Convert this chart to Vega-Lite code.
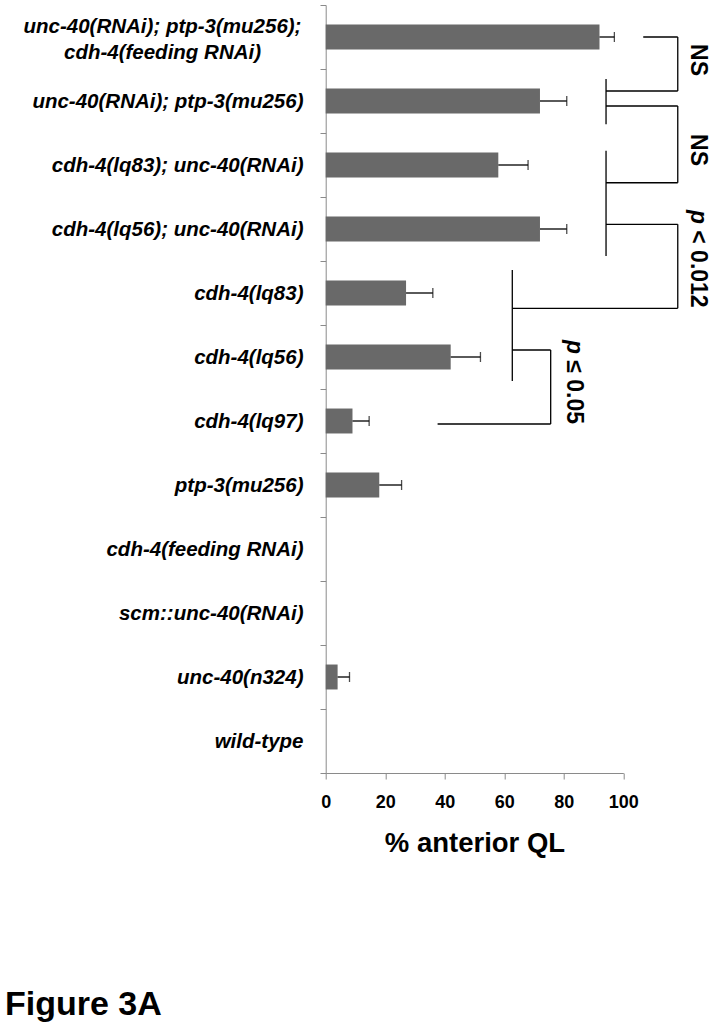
{
  "$schema": "https://vega.github.io/schema/vega-lite/v6.json",
  "width": 297.6,
  "height": 768,
  "autosize": "none",
  "padding": {"left": 325.7, "top": 5, "right": 90.7, "bottom": 254},
  "background": "white",
  "config": {"view": {"stroke": null}, "font": "Liberation Sans"},
  "title": {
    "text": "Figure 3A",
    "orient": "bottom",
    "anchor": "start",
    "frame": "group",
    "dx": -320.7,
    "offset": 158,
    "baseline": "alphabetic",
    "font": "Liberation Sans",
    "fontSize": 34,
    "fontWeight": "bold",
    "color": "black"
  },
  "datasets": {
    "bars": [
      {"strain": "unc-40(RNAi); ptp-3(mu256); cdh-4(feeding RNAi)", "pct": 92, "upper": 97},
      {"strain": "unc-40(RNAi); ptp-3(mu256)", "pct": 72, "upper": 81},
      {"strain": "cdh-4(lq83); unc-40(RNAi)", "pct": 58, "upper": 68},
      {"strain": "cdh-4(lq56); unc-40(RNAi)", "pct": 72, "upper": 81},
      {"strain": "cdh-4(lq83)", "pct": 27, "upper": 36},
      {"strain": "cdh-4(lq56)", "pct": 42, "upper": 52},
      {"strain": "cdh-4(lq97)", "pct": 9, "upper": 14.6},
      {"strain": "ptp-3(mu256)", "pct": 18, "upper": 25.5},
      {"strain": "cdh-4(feeding RNAi)", "pct": 0, "upper": null},
      {"strain": "scm::unc-40(RNAi)", "pct": 0, "upper": null},
      {"strain": "unc-40(n324)", "pct": 4, "upper": 8},
      {"strain": "wild-type", "pct": 0, "upper": null}
    ],
    "brackets": [
      {"xa": 106.7, "xb": 118.3, "ya": 0.5, "yb": 0.5},
      {"xa": 118.3, "xb": 118.3, "ya": 0.5, "yb": 1.344},
      {"xa": 94.2, "xb": 118.3, "ya": 1.344, "yb": 1.344},
      {"xa": 94.2, "xb": 94.2, "ya": 1.156, "yb": 1.864},
      {"xa": 94.2, "xb": 118.3, "ya": 1.578, "yb": 1.578},
      {"xa": 118.3, "xb": 118.3, "ya": 1.578, "yb": 2.777},
      {"xa": 94.2, "xb": 118.3, "ya": 2.777, "yb": 2.777},
      {"xa": 94.2, "xb": 94.2, "ya": 2.277, "yb": 3.922},
      {"xa": 94.2, "xb": 118.3, "ya": 3.427, "yb": 3.427},
      {"xa": 118.3, "xb": 118.3, "ya": 3.427, "yb": 4.739},
      {"xa": 62.7, "xb": 118.3, "ya": 4.739, "yb": 4.739},
      {"xa": 62.7, "xb": 62.7, "ya": 4.141, "yb": 5.875},
      {"xa": 62.7, "xb": 75.6, "ya": 5.391, "yb": 5.391},
      {"xa": 75.6, "xb": 75.6, "ya": 5.391, "yb": 6.547},
      {"xa": 37.6, "xb": 75.6, "ya": 6.547, "yb": 6.547}
    ],
    "ns": [
      {"xt": 125.1, "yt": 0.86, "label": "NS"},
      {"xt": 125.1, "yt": 2.266, "label": "NS"}
    ],
    "psym": [
      {"xt": 125.0, "yt": 3.203, "label": "p"},
      {"xt": 83.4, "yt": 5.234, "label": "p"}
    ],
    "pval": [
      {"xt": 125.0, "yt": 3.52, "label": "< 0.012"},
      {"xt": 83.4, "yt": 5.55, "label": "≤ 0.05"}
    ]
  },
  "layer": [
    {
      "data": {"name": "bars"},
      "encoding": {
        "y": {
          "field": "strain",
          "type": "nominal",
          "sort": null,
          "scale": {"paddingInner": 0, "paddingOuter": 0},
          "axis": {
            "title": null,
            "tickBand": "extent",
            "domainColor": "#8a8a8a",
            "tickColor": "#8a8a8a",
            "tickSize": 5.7,
            "labelFont": "Liberation Sans",
            "labelFontSize": 20.5,
            "labelFontStyle": "italic",
            "labelFontWeight": "bold",
            "labelColor": "black",
            "labelLimit": 400,
            "labelLineHeight": 26,
            "labelPadding": {"condition": {"test": "datum.value == 'unc-40(RNAi); ptp-3(mu256); cdh-4(feeding RNAi)'", "value": 158}, "value": 17},
            "labelAlign": {"condition": {"test": "datum.value == 'unc-40(RNAi); ptp-3(mu256); cdh-4(feeding RNAi)'", "value": "center"}, "value": "right"},
            "labelOffset": {"condition": {"test": "datum.value == 'unc-40(RNAi); ptp-3(mu256); cdh-4(feeding RNAi)'", "value": -11}, "value": 0},
            "labelExpr": "datum.value == 'unc-40(RNAi); ptp-3(mu256); cdh-4(feeding RNAi)' ? ['unc-40(RNAi); ptp-3(mu256);', 'cdh-4(feeding RNAi)'] : datum.label"
          }
        }
      },
      "layer": [
        {
          "mark": {"type": "bar", "height": {"band": 0.39}, "color": "#696969"},
          "encoding": {
            "x": {
              "field": "pct",
              "type": "quantitative",
              "scale": {"domain": [0, 100], "nice": false},
              "axis": {
                "title": "% anterior QL",
                "values": [0, 20, 40, 60, 80, 100],
                "grid": false,
                "domainColor": "#8a8a8a",
                "tickColor": "#8a8a8a",
                "tickSize": 6,
                "labelFont": "Liberation Sans",
                "labelFontSize": 18,
                "labelFontWeight": "bold",
                "labelColor": "black",
                "labelPadding": 14,
                "labelFlush": false,
                "labelOverlap": false,
                "titleFont": "Liberation Sans",
                "titleFontSize": 27.5,
                "titleFontWeight": "bold",
                "titleColor": "black",
                "titlePadding": 18
              }
            }
          }
        },
        {
          "transform": [{"filter": "datum.upper != null"}],
          "mark": {"type": "rule", "color": "black", "strokeWidth": 1.3},
          "encoding": {
            "x": {"field": "pct", "type": "quantitative", "title": "% anterior QL"},
            "x2": {"field": "upper"}
          }
        },
        {
          "transform": [{"filter": "datum.upper != null"}],
          "mark": {"type": "tick", "color": "black", "thickness": 1.3, "size": 10, "orient": "vertical"},
          "encoding": {
            "x": {"field": "upper", "type": "quantitative", "title": "% anterior QL"}
          }
        }
      ]
    },
    {
      "layer": [
        {
          "data": {"name": "brackets"},
          "mark": {"type": "rule", "color": "black", "strokeWidth": 1.3},
          "encoding": {
            "x": {"field": "xa", "type": "quantitative", "title": "% anterior QL", "scale": {"domain": [0, 100], "nice": false}},
            "x2": {"field": "xb"},
            "y": {"field": "ya", "type": "quantitative", "scale": {"domain": [0, 12], "reverse": true, "nice": false, "zero": false}, "axis": null},
            "y2": {"field": "yb"}
          }
        },
        {
          "data": {"name": "ns"},
          "mark": {"type": "text", "angle": 90, "align": "center", "baseline": "middle", "font": "Liberation Sans", "fontSize": 23, "fontWeight": "bold", "color": "black"},
          "encoding": {
            "x": {"field": "xt", "type": "quantitative", "title": "% anterior QL"},
            "y": {"field": "yt", "type": "quantitative", "axis": null},
            "text": {"field": "label"}
          }
        },
        {
          "data": {"name": "psym"},
          "mark": {"type": "text", "angle": 90, "align": "left", "baseline": "middle", "font": "Liberation Sans", "fontSize": 23, "fontWeight": "bold", "fontStyle": "italic", "color": "black"},
          "encoding": {
            "x": {"field": "xt", "type": "quantitative", "title": "% anterior QL"},
            "y": {"field": "yt", "type": "quantitative", "axis": null},
            "text": {"field": "label"}
          }
        },
        {
          "data": {"name": "pval"},
          "mark": {"type": "text", "angle": 90, "align": "left", "baseline": "middle", "font": "Liberation Sans", "fontSize": 23, "fontWeight": "bold", "color": "black"},
          "encoding": {
            "x": {"field": "xt", "type": "quantitative", "title": "% anterior QL"},
            "y": {"field": "yt", "type": "quantitative", "axis": null},
            "text": {"field": "label"}
          }
        }
      ]
    }
  ],
  "resolve": {"scale": {"y": "independent"}}
}
